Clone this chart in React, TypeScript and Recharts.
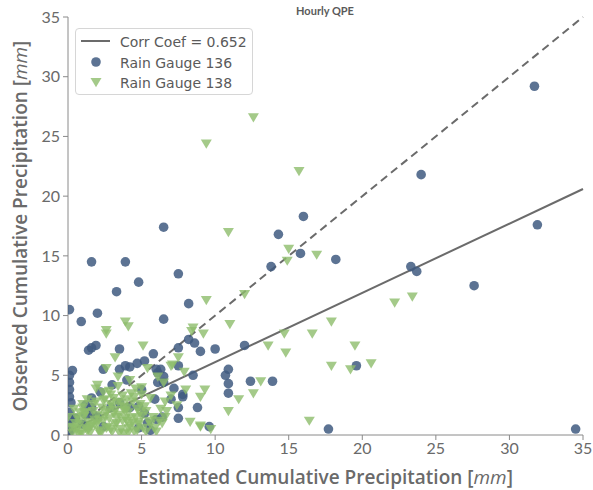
import {
  ScatterChart, Scatter, XAxis, YAxis, ReferenceLine, Label,
} from 'recharts';

// Rain Gauge 136: estimated (x) vs observed (y), mm
const gauge136Est = [
  31.7, 31.9, 24.0, 27.6, 34.5, 16.0, 14.3, 15.8, 18.2, 13.8, 23.3, 23.7,
  12.0, 19.6, 12.4, 13.9, 17.7, 10.0, 9.0, 10.9, 10.7, 10.9, 10.9, 9.6,
  6.5, 1.6, 3.9, 7.5, 4.8, 3.3, 0.1, 0.9, 2.0, 8.2, 6.5,
  8.2, 8.6, 7.5, 5.8, 7.5, 6.0, 6.1, 6.5, 6.1, 6.5, 8.5, 7.2, 7.8, 7.8, 5.9, 7.5, 8.8, 7.5,
  1.4, 1.9, 1.6, 3.5, 3.5, 2.4, 3.9, 4.2, 4.7, 5.2, 6.3,
  0.3, 0.1, 0.1, 0.1, 0.1, 0.2, 0.1, 0.2, 0.1, 0.1,
  1.6, 1.2, 1.7, 2.0, 1.0, 0.5, 2.9, 3.5, 4.2, 4.8, 5.2, 6.0, 5.6, 4.8, 5.4, 2.4, 6.4,
  1.6, 1.2, 7.0, 5.0, 3.0, 2.2, 4.0,
];
const gauge136Obs = [
  29.2, 17.6, 21.8, 12.5, 0.5, 18.3, 16.8, 15.2, 14.7, 14.1, 14.1, 13.7,
  7.5, 5.8, 4.5, 4.5, 0.5, 7.2, 7.0, 5.5, 5.0, 4.3, 3.5, 0.7,
  17.4, 14.5, 14.5, 13.5, 12.8, 12.0, 10.5, 9.5, 10.2, 11.0, 9.7,
  8.0, 7.7, 7.3, 6.8, 5.8, 5.5, 5.2, 4.9, 4.4, 4.4, 5.0, 3.9, 3.4, 3.2, 3.0, 2.3, 2.3, 1.4,
  7.1, 7.5, 7.3, 7.2, 5.5, 5.5, 5.8, 5.7, 6.0, 6.2, 5.5,
  5.4, 5.0, 4.4, 3.8, 3.2, 2.7, 1.9, 1.4, 0.8, 0.3,
  2.3, 1.7, 1.7, 1.5, 0.9, 1.4, 2.3, 2.7, 2.3, 2.4, 1.8, 1.3, 0.4, 0.6, 1.0, 0.7, 1.5,
  3.1, 2.5, 3.0, 3.8, 4.2, 3.6, 4.6,
];

// Rain Gauge 138
const gauge138Est = [
  12.6, 9.4, 15.7, 10.9, 15.0, 14.9, 16.9, 12.0, 9.4, 22.2, 23.4, 11.0, 9.2,
  17.9, 14.7, 16.6, 13.6, 14.8, 19.5, 17.9, 19.2, 20.6, 9.3, 13.1, 12.6, 11.6,
  10.9, 16.4, 9.0, 9.7,
  3.9, 4.1, 2.6, 8.5, 8.4, 2.6, 3.2, 5.1, 7.5, 7.1, 7.0, 7.9, 5.4, 2.6, 3.4,
  4.2, 6.1, 6.5, 8.0, 9.0, 7.0, 6.6, 7.4, 6.6, 8.3, 9.0, 6.4, 6.0, 5.8, 2.0,
  2.4, 2.9, 5.0, 5.6, 4.0, 0.8, 0.0, 1.9, 6.7, 6.3,
  0.3, 0.6, 0.9, 1.2, 1.5, 1.8, 2.1, 2.4, 2.7, 3.0, 3.3, 3.6, 3.9, 4.2, 4.5,
  4.8, 5.1, 0.5, 0.8, 1.1, 1.4, 1.7, 2.0, 2.3, 2.6, 2.9, 3.2, 3.5, 3.8, 4.1,
  4.4, 4.7, 5.0, 1.0, 1.3, 1.9, 2.2, 2.8, 3.1, 3.4, 3.7, 4.0, 4.3, 4.6, 0.2,
  0.4, 1.6, 2.5, 3.8, 4.9, 5.3, 5.5, 0.7, 1.3, 2.0, 2.7, 3.3, 3.6, 4.4, 4.1,
  0.4, 0.9, 1.5, 2.2, 2.9, 3.5, 4.1, 4.7, 5.3, 5.9, 0.6, 1.2, 1.8, 2.5, 3.1,
  3.7, 4.3, 4.9, 5.6, 6.2, 1.0, 1.7, 2.4, 3.0, 3.8, 4.5, 5.2, 2.8, 3.4, 4.0,
  1.4, 2.1, 4.6, 5.0, 3.2, 2.6, 1.1, 0.8, 3.9, 4.8,
];
const gauge138Obs = [
  26.6, 24.4, 22.1, 17.0, 15.6, 14.6, 15.1, 11.8, 11.3, 11.1, 11.6, 9.3, 8.5,
  9.5, 8.5, 8.5, 7.5, 6.9, 7.5, 5.8, 5.5, 6.0, 3.8, 4.5, 3.5, 3.0,
  2.0, 1.2, 0.7, 0.5,
  9.5, 9.1, 8.8, 9.0, 8.7, 8.5, 6.5, 7.5, 6.5, 5.9, 5.8, 5.3, 5.6, 5.6, 4.9,
  4.6, 4.9, 4.4, 3.8, 3.2, 3.3, 2.8, 2.5, 1.5, 1.1, 0.8, 1.0, 0.3, 1.5, 4.2,
  3.6, 3.4, 4.0, 3.1, 2.3, 1.9, 1.5, 3.9, 2.0, 2.2,
  0.2, 0.5, 0.3, 0.6, 0.2, 0.9, 0.4, 1.2, 0.7, 0.3, 1.0, 0.5, 1.4, 0.8, 0.3,
  1.1, 0.6, 1.0, 1.3, 1.6, 1.1, 2.0, 1.7, 2.3, 1.9, 2.6, 2.1, 1.7, 2.4, 1.9,
  2.8, 2.2, 1.6, 2.6, 3.0, 2.8, 0.1, 1.4, 3.1, 2.8, 3.3, 1.2, 3.5, 1.5, 0.7,
  2.2, 0.8, 3.0, 0.1, 2.6, 2.0, 1.2, 0.1, 0.4, 1.0, 2.1, 1.5, 2.7, 1.0, 0.2,
  0.6, 0.1, 0.7, 0.3, 0.5, 0.2, 0.6, 0.4, 0.3, 0.6, 1.5, 1.9, 1.3, 1.6, 1.8,
  1.2, 1.4, 1.9, 0.9, 1.2, 2.3, 2.6, 2.9, 2.4, 2.1, 3.2, 2.4, 3.7, 4.1, 3.0,
  0.5, 1.3, 3.9, 3.4, 0.9, 0.6, 1.9, 0.9, 2.0, 0.9,
];

const axisTicks = [0, 5, 10, 15, 20, 25, 30, 35];
const fitLine = [{ x: 0, y: 0.3 }, { x: 35, y: 20.6 }];
const oneToOne = [{ x: 0, y: 0 }, { x: 35, y: 35 }];
const corrCoef = 0.652;

const gauge136 = gauge136Est.map((x, i) => ({ x, y: gauge136Obs[i] }));
const gauge138 = gauge138Est.map((x, i) => ({ x, y: gauge138Obs[i] }));

const BLUE = '#3f5a80';
const GREEN = '#8dbd6b';
const LINE = '#6b6b6b';
const AXIS = '#8a8a8a';
const TEXT = '#6a6a6a';

const Dot = ({ cx, cy }: any) => (
  <circle cx={cx} cy={cy} r={4.8} fill={BLUE} fillOpacity={0.85} />
);

const DownTri = ({ cx, cy }: any) => (
  <polygon
    points={`${cx - 5.5},${cy - 4} ${cx + 5.5},${cy - 4} ${cx},${cy + 5.2}`}
    fill={GREEN}
    fillOpacity={0.8}
  />
);

const XTitle = ({ viewBox }: any) => (
  <text
    x={viewBox.x + viewBox.width / 2}
    y={viewBox.y + 49}
    textAnchor="middle"
    fill={TEXT}
    fontFamily="Open Sans"
    fontWeight={600}
    fontSize={19}
  >
    Estimated Cumulative Precipitation [<tspan fontStyle="italic" fontWeight={400}>mm</tspan>]
  </text>
);

const YTitle = ({ viewBox }: any) => {
  const cx = 27;
  const cy = viewBox.y + viewBox.height / 2;
  return (
    <text
      x={cx}
      y={cy}
      transform={`rotate(-90 ${cx} ${cy})`}
      textAnchor="middle"
      fill={TEXT}
      fontFamily="Open Sans"
      fontWeight={600}
      fontSize={19}
    >
      Observed Cumulative Precipitation [<tspan fontStyle="italic" fontWeight={400}>mm</tspan>]
    </text>
  );
};

const tickStyle = { fill: TEXT, fontSize: 16, fontFamily: 'Lato' };

export default function App() {
  return (
    <div style={{ position: 'absolute', left: 0, top: 0, width: 593, height: 490, background: '#fff' }}>
      <ScatterChart width={593} height={490} margin={{ top: 17, right: 10, bottom: 0, left: 0 }}>
        <XAxis
          type="number"
          dataKey="x"
          domain={[0, 35]}
          ticks={axisTicks}
          allowDataOverflow
          stroke={AXIS}
          tickSize={5}
          tickMargin={3}
          tick={tickStyle}
          height={55}
        >
          <Label content={<XTitle />} />
        </XAxis>
        <YAxis
          type="number"
          dataKey="y"
          domain={[0, 35]}
          ticks={axisTicks}
          allowDataOverflow
          stroke={AXIS}
          tickSize={5}
          tickMargin={3}
          tick={tickStyle}
          width={68}
        >
          <Label content={<YTitle />} />
        </YAxis>
        <ReferenceLine segment={oneToOne} stroke={LINE} strokeWidth={2} strokeDasharray="8 5" ifOverflow="visible" />
        <ReferenceLine segment={fitLine} stroke={LINE} strokeWidth={2} ifOverflow="visible" />
        <Scatter data={gauge136} shape={<Dot />} isAnimationActive={false} />
        <Scatter data={gauge138} shape={<DownTri />} isAnimationActive={false} />
      </ScatterChart>

      <div
        style={{
          position: 'absolute', left: 0, top: 4, width: 650, textAlign: 'center',
          fontFamily: 'Lato', fontWeight: 700, fontSize: 11, color: '#5a5a5a',
        }}
      >
        Hourly QPE
      </div>

      <div
        style={{
          position: 'absolute', left: 75, top: 28, width: 178, height: 67,
          border: '1px solid #d6d6d6', borderRadius: 4, background: 'rgba(255,255,255,0.85)',
          fontFamily: 'DejaVu Sans', fontSize: 14, color: '#5a5a5a', boxSizing: 'border-box',
        }}
      >
        <svg width={40} height={64} style={{ position: 'absolute', left: 0, top: 0 }}>
          <line x1={5} x2={34} y1={12} y2={12} stroke={LINE} strokeWidth={2} />
          <circle cx={20} cy={33} r={4.8} fill={BLUE} fillOpacity={0.85} />
          <polygon points="14.5,49 25.5,49 20,58.2" fill={GREEN} fillOpacity={0.8} />
        </svg>
        <div style={{ position: 'absolute', left: 44, top: 3, lineHeight: '20.5px' }}>
          <div>Corr Coef = {corrCoef}</div>
          <div>Rain Gauge 136</div>
          <div>Rain Gauge 138</div>
        </div>
      </div>
    </div>
  );
}
